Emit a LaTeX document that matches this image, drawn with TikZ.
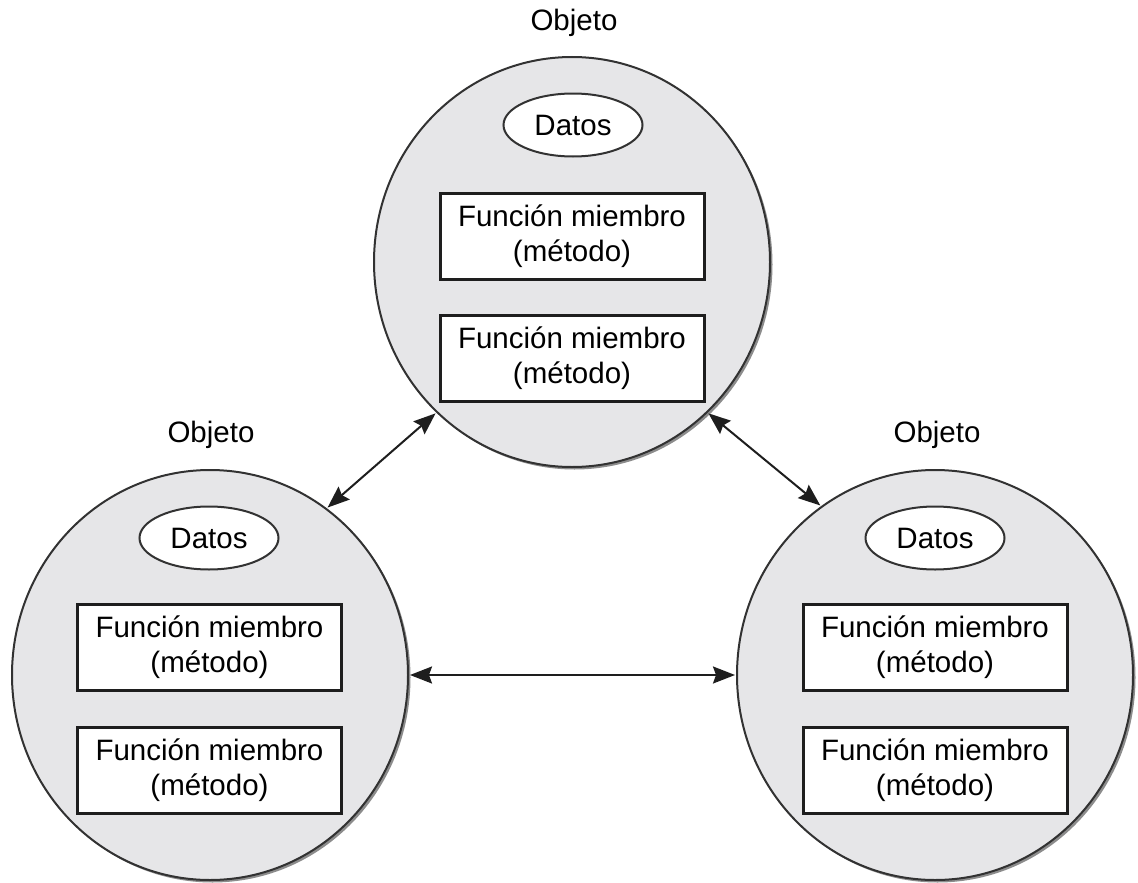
\documentclass[tikz,border=0pt]{standalone}
\usepackage{fontspec}
\setmainfont{Liberation Sans}
\usetikzlibrary{shapes.geometric,arrows.meta,shadows}
\definecolor{objfill}{RGB}{230,230,232}
\definecolor{ink}{RGB}{30,30,30}
\definecolor{rim}{RGB}{50,50,50}
\tikzset{
  objeto/.style={ellipse, draw=rim, line width=2pt, fill=objfill,
    minimum width=396pt, minimum height=410pt, inner sep=0pt,
    drop shadow={shadow xshift=2.5pt, shadow yshift=-2.5pt, fill=black!45, opacity=1}},
  datos/.style={ellipse, draw=rim, line width=2pt, fill=white,
    minimum width=139pt, minimum height=63pt, inner sep=0pt,
    font=\fontsize{29.5}{35}\selectfont},
  metodo/.style={rectangle, draw=ink, line width=3pt, fill=white,
    minimum width=264pt, minimum height=86pt, inner sep=0pt, align=center,
    font=\fontsize{29.5}{35}\selectfont},
  titulo/.style={font=\fontsize{29.5}{35}\selectfont, inner sep=0pt},
  punta/.tip={Stealth[length=22pt,width=17pt,inset=3pt]},
  flecha/.style={draw=ink, line width=2pt, punta-punta, shorten <=1pt, shorten >=1pt}
}
\begin{document}
\begin{tikzpicture}[x=1pt,y=-1pt]
\useasboundingbox (0,0) rectangle (1138,883);
% top object
\node[objeto] (top) at (572,262) {};
\node[titulo] (topT) at (574,23) {Objeto};
\node[datos] (topD) at (573,125) {Datos};
\node[metodo] (topM1) at (572,236) {Función miembro\\(método)};
\node[metodo] (topM2) at (572,358) {Función miembro\\(método)};
% left object
\node[objeto] (left) at (210,675) {};
\node[titulo] (leftT) at (211,435) {Objeto};
\node[datos] (leftD) at (209,538) {Datos};
\node[metodo] (leftM1) at (209.5,647.5) {Función miembro\\(método)};
\node[metodo] (leftM2) at (209.5,770.5) {Función miembro\\(método)};
% right object
\node[objeto] (right) at (935,675) {};
\node[titulo] (rightT) at (937,435) {Objeto};
\node[datos] (rightD) at (935,538) {Datos};
\node[metodo] (rightM1) at (935,647.5) {Función miembro\\(método)};
\node[metodo] (rightM2) at (935,770.5) {Función miembro\\(método)};
% connectors
\draw[flecha] (left.55) -- (top.228);
\draw[flecha] (top.312) -- (right.124.5);
\draw[flecha] (left.0) -- (right.180);
\end{tikzpicture}
\end{document}
